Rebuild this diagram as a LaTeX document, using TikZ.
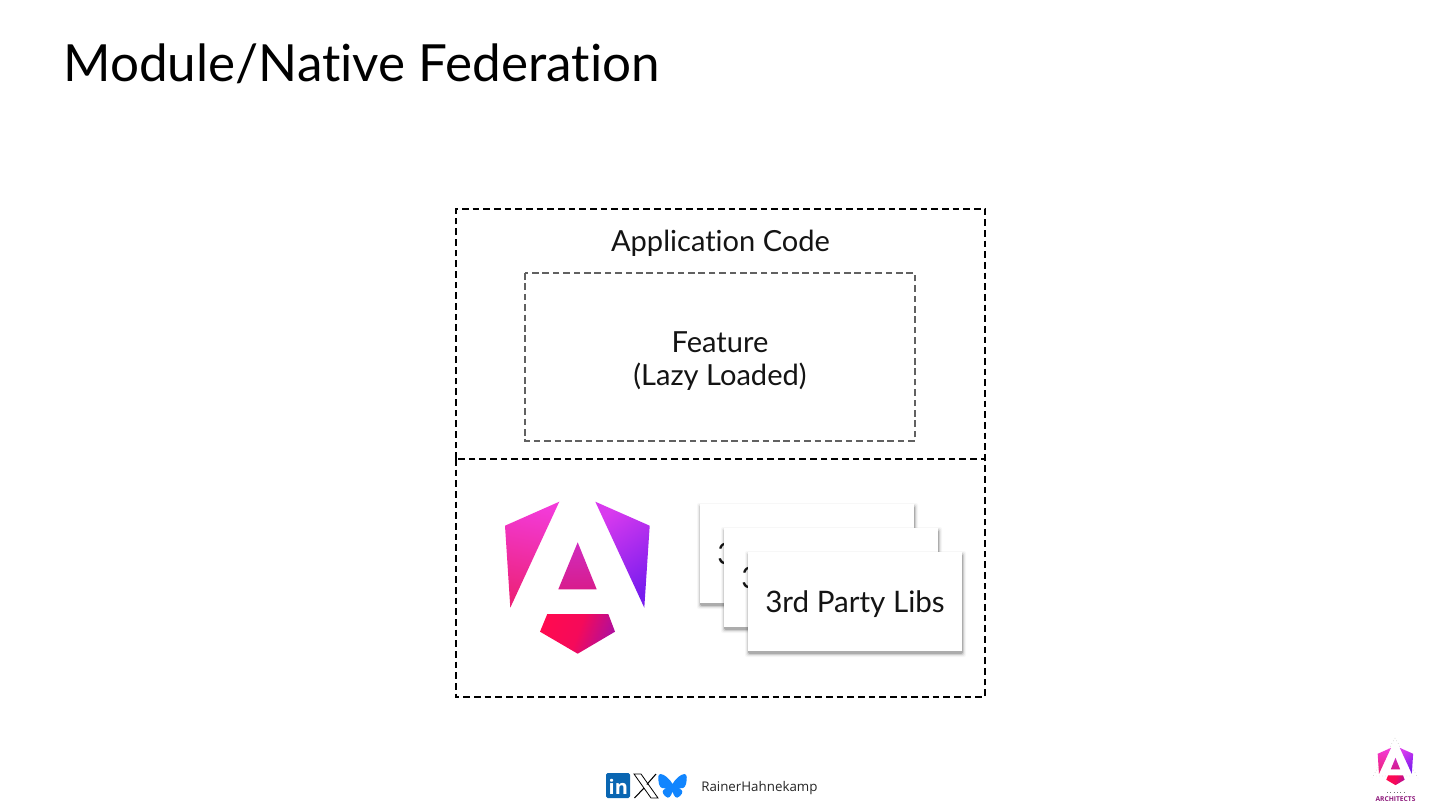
\documentclass[tikz,border=0pt]{standalone}
\usepackage{fontspec}
\setmainfont[Ligatures=NoCommon]{Lato}
\newfontfamily\footfont{Open Sans}
\definecolor{linkblue}{HTML}{0A66B2}
\definecolor{skyblue}{HTML}{1185FE}
\definecolor{archpink}{HTML}{8E1A7C}
\tikzset{
  boxdash/.style={draw=black,line width=1.5pt,dash pattern=on 5pt off 3pt},
  featdash/.style={draw=black!62,line width=1.1pt,dash pattern=on 5pt off 2.8pt},
  bodytext/.style={font=\fontsize{21.8}{24.6}\selectfont,align=center,text=black!92},
  libcard/.style={fill=white,minimum width=160.5pt,minimum height=74.25pt,inner sep=0pt,text depth=0pt,
    font=\fontsize{22.2}{24.6}\selectfont,text=black!92},
}
% shield drawn around its own centre, in pixels of the large one
\newcommand{\shieldlogo}[2]{%
\begin{scope}[shift={(#1)},scale=#2]
\shade[top color={rgb,255:red,243;green,58;blue,216},bottom color={rgb,255:red,236;green,34;blue,120},shading angle=-12]
  (-18.4,-76) -- (-72.7,-52) -- (-67.4,30) -- cycle;
\shade[top color={rgb,255:red,216;green,58;blue,238},bottom color={rgb,255:red,120;green,28;blue,238},shading angle=35]
  (17.6,-76) -- (72,-52) -- (66.6,30) -- cycle;
\shade[top color={rgb,255:red,208;green,44;blue,192},bottom color={rgb,255:red,216;green,28;blue,140}]
  (0,-35.4) -- (-19.4,11.6) -- (19,11.6) -- cycle;
\shade[left color={rgb,255:red,255;green,10;blue,80},right color={rgb,255:red,176;green,14;blue,156},middle color={rgb,255:red,245;green,10;blue,90},shading angle=70]
  (-30.4,36.3) -- (30.6,36.3) -- (37.3,54) -- (0,76) -- (-37.7,54) -- cycle;
\end{scope}}
\begin{document}
\begin{tikzpicture}[x=.75pt,y=-.75pt]
\useasboundingbox (0,0) rectangle (1440,810);
\node[anchor=base west,inner sep=0pt,font=\fontsize{38.4}{44}\selectfont](title)at(63.2,81){Module/Native Federation};
% boxes
\draw[boxdash](456,459) -- (456,209) -- (985,209) -- (985,459);
\draw[boxdash](456,459) rectangle (985,697);
\draw[featdash](525,273) rectangle (915,441);
\node[bodytext](appcode)at(720.5,243){Application Code};
\node[bodytext](feature)at(720,361){Feature\\(Lazy Loaded)};
\shieldlogo{577.7,577.7}{1}
% cards, each on its own soft shadow
\foreach \libname/\cx/\cy in {libone/807/553.5,libtwo/831/577.5,libthree/855/601.5}{
  \foreach \r/\op in {3.5/.03,2.5/.05,1.5/.10,.5/.18}
    \fill[black,opacity=\op,rounded corners=1.5pt]
      (\cx-107-\r+.5,\cy-49.5-\r+2.5) rectangle (\cx+107+\r+.5,\cy+49.5+\r+2.5);
  \node[libcard](\libname)at(\cx,\cy){3rd Party Libs};
}
% footer
\fill[linkblue,rounded corners=1.2pt](606,773) rectangle (630,798);
\node[text=white,inner sep=0pt,font=\fontsize{15}{15}\bfseries\footfont](linkin)at(618.3,786.5){in};
\filldraw[fill=white,draw=black,line width=.6pt](634,774) -- (641,774) -- (658,798) -- (651,798) -- cycle;
\draw[black,line width=.8pt](656,774) -- (646.8,784.5) (644,788) -- (634.5,798);
\fill[skyblue](672.5,784) .. controls (670,779) and (664,774) .. (660.5,774)
  .. controls (657.5,774) and (658,779) .. (659,784) .. controls (660,788) and (663,789) .. (666,788.5)
  .. controls (661.5,790) and (662,793) .. (665,796) .. controls (669,800) and (671,796) .. (672.5,791.5)
  .. controls (674,796) and (676,800) .. (680,796) .. controls (683,793) and (683.5,790) .. (679,788.5)
  .. controls (682,789) and (685,788) .. (686,784) .. controls (687,779) and (687.5,774) .. (684.5,774)
  .. controls (681,774) and (675,779) .. (672.5,784) -- cycle;
\node[anchor=base west,inner sep=0pt,font=\fontsize{10}{12}\footfont,text=black!85](handle)at(701,791){RainerHahnekamp};
% corner logo
\draw[black!45,line width=.3pt,dotted](1395,738) -- (1372,778) (1395,738) -- (1418,778) (1376,776) -- (1414,776);
\shieldlogo{1395.5,766.5}{.245}
\draw[black!55,line width=.5pt,dotted](1387,792) -- (1404,792);
\node[inner sep=0pt,font=\fontsize{5}{6}\bfseries\footfont,text=archpink](archname)at(1395.5,799){ARCHITECTS};
\end{tikzpicture}
\end{document}
